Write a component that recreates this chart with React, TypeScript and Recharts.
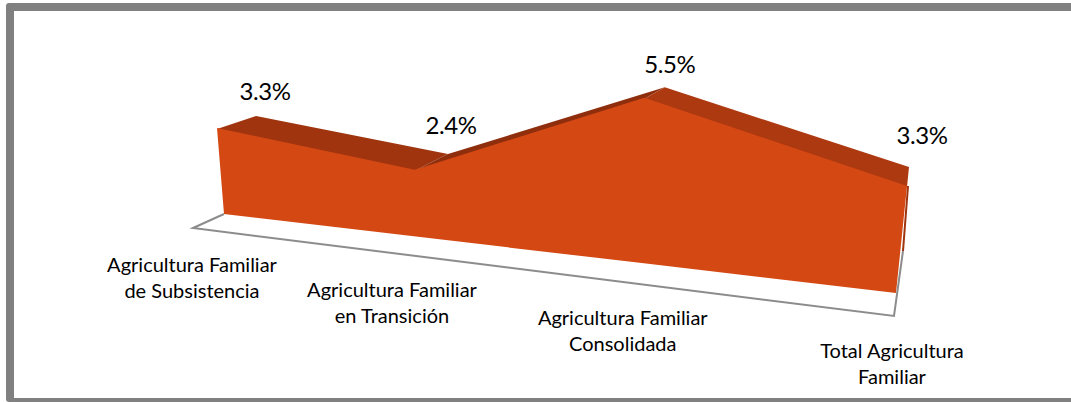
import React from 'react';
import { ComposedChart, Area, Line, XAxis, YAxis } from 'recharts';

const WIDTH = 1071;
const HEIGHT = 402;
const AXIS_HEIGHT = 1;
const MAX_VALUE = 6;

const categories = [
  ['Agricultura Familiar', 'de Subsistencia'],
  ['Agricultura Familiar', 'en Transición'],
  ['Agricultura Familiar', 'Consolidada'],
  ['Total Agricultura', 'Familiar'],
];
const positions = [0, 1, 2, 3];
const values = [3.3, 2.4, 5.5, 3.3];
const floorValues = [0, 0, 0, 0];
const risingLeft = [3.3, 2.4, null, null];
const risingMiddle = [null, 2.4, 5.5, null];
const risingRight = [null, null, 5.5, 3.3];

const data = positions.map((pos, i) => ({
  pos,
  value: values[i],
  floor: floorValues[i],
  segA: risingLeft[i],
  segB: risingMiddle[i],
  segC: risingRight[i],
}));

type Pt = [number, number];
// a wall of the 3D box: where value 0 and the reference value land at each end
interface Plane {
  bottomLeft: Pt;
  bottomRight: Pt;
  topLeft: Pt;
  topRight: Pt;
  depthRatio: number;
}
const REF_VALUE = 3.3;

const frontWall: Plane = {
  bottomLeft: [224, 214],
  bottomRight: [896, 293],
  topLeft: [217, 128],
  topRight: [907, 186],
  depthRatio: 0.8,
};
const backWall: Plane = {
  bottomLeft: [261, 195],
  bottomRight: [903, 265],
  topLeft: [256, 116],
  topRight: [909, 167],
  depthRatio: 0.83,
};
const floorFrontLeft: Pt = [193, 228];
const floorFrontRight: Pt = [894, 316];
const floorBackRight: Pt = [903, 251];
const labelLeft: Pt = [192, 266];
const labelRight: Pt = [892, 352];
// nudges of the value labels from the back edge of the area
const valueLabelOffsets: Pt[] = [[9, -16], [3, -20], [5, -14], [13, -23]];

const mix = (a: Pt, b: Pt, t: number): Pt => [a[0] + (b[0] - a[0]) * t, a[1] + (b[1] - a[1]) * t];

// perspective along the x direction, straight up along the value direction
const alongDepth = (a: Pt, b: Pt, s: number, ratio: number): Pt => {
  const w = 1 - s + s * ratio;
  return [((1 - s) * a[0] + s * ratio * b[0]) / w, ((1 - s) * a[1] + s * ratio * b[1]) / w];
};

const project = (plane: Plane, s: number, value: number): Pt => {
  const u = value / REF_VALUE;
  return alongDepth(
    mix(plane.bottomLeft, plane.topLeft, u),
    mix(plane.bottomRight, plane.topRight, u),
    s,
    plane.depthRatio,
  );
};

// pixel position from the recharts scales back to chart units
const toUnits = (x: number, y: number): [number, number] => [
  x / WIDTH,
  MAX_VALUE * (1 - y / (HEIGHT - AXIS_HEIGHT)),
];

// d3 curve factory: same as curveLinear but every point goes through a wall
const wallCurve = (plane: Plane) => (context: any) => {
  let line = NaN;
  let started = 0;
  return {
    areaStart() { line = 0; },
    areaEnd() { line = NaN; },
    lineStart() { started = 0; },
    lineEnd() {
      if (line || (line !== 0 && started === 1)) context.closePath();
      line = 1 - line;
    },
    point(x: number, y: number) {
      const [s, v] = toUnits(x, y);
      const p = project(plane, s, v);
      if (!started) {
        started = 1;
        if (line) context.lineTo(p[0], p[1]);
        else context.moveTo(p[0], p[1]);
      } else {
        started = 2;
        context.lineTo(p[0], p[1]);
      }
    },
  };
};

// top surface of the 3D area: joins the front wall edge to the back wall edge
const surfaceCurve = (context: any) => {
  const pts: [number, number][] = [];
  let run = 0;
  return {
    areaStart() { run = 0; },
    areaEnd() {
      // 1px under the front wall so no white seam shows between them
      const front = pts.map(([s, v]) => {
        const p = project(frontWall, s, v);
        return [p[0], p[1] + 1] as Pt;
      });
      const back = pts.map(([s, v]) => project(backWall, s, v)).reverse();
      [...front, ...back].forEach((p, i) => {
        if (i === 0) context.moveTo(p[0], p[1]);
        else context.lineTo(p[0], p[1]);
      });
      context.closePath();
    },
    lineStart() { run += 1; },
    lineEnd() {},
    point(x: number, y: number) {
      if (run === 1) pts.push(toUnits(x, y));
    },
  };
};

// gray outline of the floor, drawn from the floor series
const floorEdgeCurve = (context: any) => {
  const xs: number[] = [];
  return {
    lineStart() {},
    lineEnd() {
      const [s0] = toUnits(xs[0], 0);
      const start = project(frontWall, s0, 0);
      context.moveTo(start[0], start[1]);
      context.lineTo(floorFrontLeft[0], floorFrontLeft[1]);
      context.lineTo(floorFrontRight[0], floorFrontRight[1]);
      context.lineTo(floorBackRight[0], floorBackRight[1]);
    },
    point(x: number) { xs.push(x); },
  };
};

// thin dark side of the area at its right end
const sideEdgeCurve = (context: any) => ({
  lineStart() {},
  lineEnd() {
    const top = project(frontWall, 1, REF_VALUE);
    context.moveTo(top[0] + 1, top[1]);
    context.lineTo(floorBackRight[0], floorBackRight[1]);
  },
  point() {},
});

const FONT = 'Lato, Carlito, sans-serif';

const CategoryTick = ({ x, payload }: any) => {
  const p = alongDepth(labelLeft, labelRight, x / WIDTH, frontWall.depthRatio);
  return (
    <text x={p[0]} textAnchor="middle" fontFamily={FONT} fontSize={20} fill="#000">
      {categories[payload.value].map((line, i) => (
        <tspan key={line} x={p[0]} y={p[1] + 6 + i * 26}>{line}</tspan>
      ))}
    </text>
  );
};

const ValueLabel = ({ x, y, value, index }: any) => {
  const [s, v] = toUnits(x, y);
  const p = project(backWall, s, v);
  const [dx, dy] = valueLabelOffsets[index];
  return (
    <text
      x={p[0] + dx}
      y={p[1] + dy}
      textAnchor="middle"
      fontFamily={FONT}
      fontSize={24}
      letterSpacing={-0.4}
      fill="#000"
    >
      {value}%
    </text>
  );
};

export default function App() {
  return (
    <div
      style={{
        position: 'absolute',
        left: 0,
        top: 0,
        width: WIDTH,
        height: HEIGHT,
        background: '#fff',
        overflow: 'hidden',
      }}
    >
      <div
        style={{
          position: 'absolute',
          left: 6,
          top: 3,
          right: -20,
          bottom: 0,
          border: '8px solid #808080',
          borderBottomWidth: 4,
          borderRadius: 3,
        }}
      />
      <ComposedChart
        width={WIDTH}
        height={HEIGHT}
        data={data}
        margin={{ top: 0, right: 0, bottom: 0, left: 0 }}
        style={{ position: 'absolute', left: 0, top: 0 }}
      >
        <XAxis
          dataKey="pos"
          type="number"
          domain={[0, 3]}
          ticks={positions}
          interval={0}
          height={AXIS_HEIGHT}
          axisLine={false}
          tickLine={false}
          tick={<CategoryTick />}
        />
        <YAxis hide domain={[0, MAX_VALUE]} />
        <Line dataKey="floor" type={floorEdgeCurve as any} stroke="#8c8c8c" strokeWidth={2} dot={false} activeDot={false} isAnimationActive={false} />
        <Line dataKey="floor" type={sideEdgeCurve as any} stroke="#9f340f" strokeWidth={2} dot={false} activeDot={false} isAnimationActive={false} />
        <Area dataKey="segA" type={surfaceCurve as any} fill="#9f340f" fillOpacity={1} stroke="none" dot={false} activeDot={false} isAnimationActive={false} />
        <Area dataKey="segB" type={surfaceCurve as any} fill="#8f2e0d" fillOpacity={1} stroke="none" dot={false} activeDot={false} isAnimationActive={false} />
        <Area dataKey="segC" type={surfaceCurve as any} fill="#ad3911" fillOpacity={1} stroke="none" dot={false} activeDot={false} isAnimationActive={false} />
        <Area dataKey="value" type={wallCurve(frontWall) as any} fill="#d44814" fillOpacity={1} stroke="none" dot={false} activeDot={false} isAnimationActive={false} />
        <Line dataKey="value" stroke="none" dot={false} activeDot={false} label={<ValueLabel />} isAnimationActive={false} />
      </ComposedChart>
    </div>
  );
}
